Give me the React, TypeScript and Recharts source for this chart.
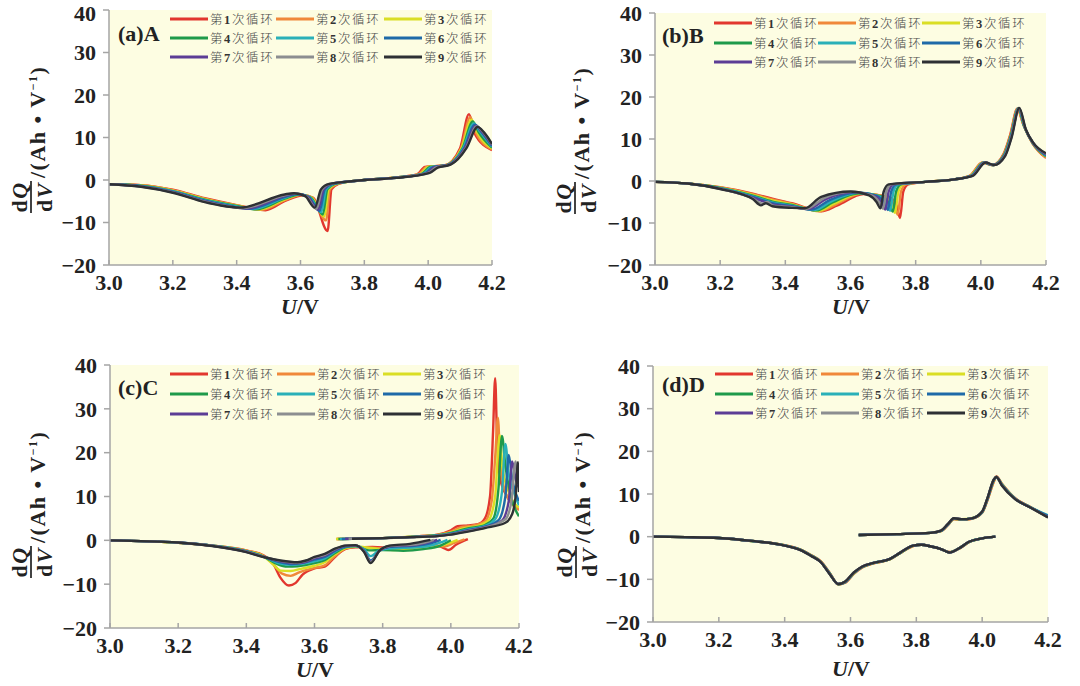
import React from "react";
import { LineChart, Line, XAxis, YAxis, CartesianGrid } from "recharts";

type Pt = [number, number];

const W = 1080;
const H = 686;
const BG = "#fdfde2";
const SERIF = "'Liberation Serif', 'Times New Roman', serif";
const CJK = "'Noto Sans CJK SC', sans-serif";

const COLORS = ["#e2372e", "#f0883a", "#dade24", "#1f9a4a", "#2ab0b8", "#1f6aa8", "#5c3d95", "#8c8e90", "#2e3034"];
const CYCLE_NUMS = ["1", "2", "3", "4", "5", "6", "7", "8", "9"];
const X_TICKS = [3.0, 3.2, 3.4, 3.6, 3.8, 4.0, 4.2];
const Y_TICKS = [-20, -10, 0, 10, 20, 30, 40];

// ---- (a) A : one curve per cycle, [U, dQ/dV]
const A1: Pt[] = [[3.0,-1],[3.1,-1.2],[3.2,-2.3],[3.3,-4.3],[3.4,-5.9],[3.49,-7.1],[3.55,-5.0],[3.61,-3.6],[3.64,-4.2],[3.685,-12],[3.697,-2.2],[3.72,-0.9],[3.76,-0.3],[3.8,0],[3.9,0.6],[3.965,1.3],[3.99,3.1],[4.05,3.4],[4.1,7.5],[4.128,15.5],[4.145,11],[4.2,7]];
const A2: Pt[] = [[3.0,-1],[3.1,-1.25],[3.2,-2.4],[3.3,-4.4],[3.4,-6.0],[3.48,-7.0],[3.55,-4.8],[3.605,-3.5],[3.637,-4.2],[3.68,-9.5],[3.692,-2.2],[3.716,-0.9],[3.76,-0.3],[3.8,0],[3.9,0.6],[3.97,1.35],[3.995,3.1],[4.053,3.4],[4.103,7.5],[4.132,14.8],[4.149,11.2],[4.2,7.2]];
const A3: Pt[] = [[3.0,-1],[3.1,-1.3],[3.2,-2.5],[3.3,-4.5],[3.4,-6.05],[3.47,-6.95],[3.55,-4.6],[3.6,-3.45],[3.634,-4.1],[3.675,-8.6],[3.688,-2.2],[3.712,-0.9],[3.76,-0.3],[3.8,0],[3.9,0.58],[3.975,1.4],[4.0,3.05],[4.055,3.45],[4.105,7.5],[4.136,14.2],[4.153,11.3],[4.2,7.4]];
const A4: Pt[] = [[3.0,-1],[3.1,-1.35],[3.2,-2.6],[3.3,-4.6],[3.4,-6.1],[3.46,-6.9],[3.55,-4.4],[3.595,-3.4],[3.631,-4.1],[3.67,-8.1],[3.684,-2.2],[3.708,-0.9],[3.76,-0.3],[3.8,0],[3.9,0.56],[3.98,1.45],[4.005,3.05],[4.058,3.5],[4.108,7.5],[4.14,13.8],[4.157,11.4],[4.2,7.6]];
const A5: Pt[] = [[3.0,-1],[3.1,-1.4],[3.2,-2.65],[3.3,-4.75],[3.4,-6.2],[3.45,-6.8],[3.55,-4.2],[3.59,-3.3],[3.628,-4.0],[3.665,-7.6],[3.68,-2.2],[3.704,-0.9],[3.76,-0.3],[3.8,0],[3.9,0.55],[3.985,1.5],[4.01,3.0],[4.06,3.5],[4.11,7.5],[4.143,13.3],[4.161,11.5],[4.2,7.8]];
const A6: Pt[] = [[3.0,-1],[3.1,-1.45],[3.2,-2.75],[3.3,-4.85],[3.38,-6.1],[3.44,-6.75],[3.55,-4.0],[3.59,-3.3],[3.625,-4.0],[3.66,-7.3],[3.676,-2.2],[3.7,-0.9],[3.76,-0.3],[3.8,0],[3.9,0.54],[3.99,1.55],[4.015,3.0],[4.063,3.55],[4.113,7.5],[4.146,13],[4.165,11.5],[4.2,8.0]];
const A7: Pt[] = [[3.0,-1],[3.1,-1.5],[3.2,-2.85],[3.3,-5.0],[3.36,-6.0],[3.43,-6.7],[3.55,-3.8],[3.585,-3.2],[3.622,-3.9],[3.655,-7.0],[3.672,-2.2],[3.696,-0.9],[3.76,-0.3],[3.8,0],[3.9,0.52],[3.995,1.6],[4.02,3.0],[4.065,3.6],[4.115,7.5],[4.15,12.8],[4.168,11.4],[4.2,8.2]];
const A8: Pt[] = [[3.0,-1],[3.1,-1.55],[3.2,-2.9],[3.3,-5.1],[3.35,-5.9],[3.42,-6.6],[3.55,-3.6],[3.58,-3.15],[3.618,-3.9],[3.65,-6.8],[3.668,-2.2],[3.692,-0.9],[3.76,-0.3],[3.8,0],[3.9,0.51],[4.0,1.65],[4.025,2.95],[4.068,3.6],[4.118,7.5],[4.152,12.6],[4.172,11.3],[4.2,8.4]];
const A9: Pt[] = [[3.0,-1],[3.1,-1.6],[3.2,-3.0],[3.3,-5.2],[3.35,-6.0],[3.41,-6.5],[3.55,-3.4],[3.58,-3.1],[3.615,-3.8],[3.645,-6.5],[3.664,-2.2],[3.69,-0.9],[3.76,-0.3],[3.8,0],[3.9,0.5],[4.005,1.7],[4.03,2.9],[4.07,3.6],[4.12,7.5],[4.155,12.5],[4.175,11.2],[4.2,8.5]];

// ---- (b) B
const B1: Pt[] = [[3.0,-0.2],[3.1,-0.6],[3.2,-1.5],[3.3,-3.0],[3.36,-4.2],[3.42,-5.3],[3.51,-7.2],[3.56,-5.8],[3.64,-3.1],[3.717,-3.8],[3.74,-5.5],[3.752,-8.8],[3.762,-2.5],[3.777,-0.8],[3.83,-0.2],[3.92,0.4],[3.965,1.2],[4.005,4.4],[4.035,3.8],[4.07,6.5],[4.09,11],[4.112,17.2],[4.13,13.5],[4.16,8.8],[4.2,5.5]];
const B2: Pt[] = [[3.0,-0.2],[3.1,-0.6],[3.2,-1.55],[3.3,-3.15],[3.36,-4.4],[3.42,-5.45],[3.505,-7.2],[3.555,-5.6],[3.635,-3.0],[3.71,-3.75],[3.733,-5.4],[3.745,-8.0],[3.755,-2.5],[3.77,-0.8],[3.83,-0.2],[3.92,0.4],[3.966,1.2],[4.006,4.4],[4.036,3.8],[4.071,6.4],[4.091,10.9],[4.113,17.2],[4.131,13.4],[4.16,8.85],[4.2,5.6]];
const B3: Pt[] = [[3.0,-0.2],[3.1,-0.6],[3.2,-1.6],[3.3,-3.3],[3.36,-4.65],[3.42,-5.55],[3.5,-7.1],[3.55,-5.4],[3.63,-2.95],[3.702,-3.7],[3.725,-5.35],[3.737,-7.6],[3.747,-2.5],[3.762,-0.8],[3.83,-0.2],[3.92,0.4],[3.967,1.2],[4.008,4.4],[4.037,3.8],[4.072,6.35],[4.092,10.8],[4.114,17.25],[4.132,13.2],[4.16,8.9],[4.2,5.8]];
const B4: Pt[] = [[3.0,-0.2],[3.1,-0.6],[3.2,-1.65],[3.3,-3.5],[3.36,-4.9],[3.42,-5.7],[3.495,-7.0],[3.545,-5.1],[3.625,-2.9],[3.695,-3.65],[3.718,-5.3],[3.73,-7.3],[3.74,-2.5],[3.755,-0.8],[3.83,-0.2],[3.92,0.4],[3.969,1.2],[4.009,4.4],[4.037,3.8],[4.072,6.3],[4.092,10.8],[4.115,17.3],[4.133,13.0],[4.16,8.95],[4.2,5.9]];
const B5: Pt[] = [[3.0,-0.2],[3.1,-0.6],[3.2,-1.7],[3.3,-3.65],[3.36,-5.1],[3.42,-5.85],[3.49,-6.9],[3.54,-4.9],[3.62,-2.8],[3.687,-3.6],[3.71,-5.2],[3.722,-7.1],[3.732,-2.5],[3.747,-0.8],[3.83,-0.2],[3.92,0.4],[3.97,1.2],[4.01,4.4],[4.038,3.8],[4.073,6.25],[4.093,10.7],[4.115,17.3],[4.134,12.9],[4.16,9.0],[4.2,6.0]];
const B6: Pt[] = [[3.0,-0.2],[3.1,-0.6],[3.2,-1.75],[3.3,-3.8],[3.36,-5.3],[3.42,-6.0],[3.48,-6.8],[3.535,-4.6],[3.615,-2.75],[3.68,-3.55],[3.703,-5.15],[3.715,-6.9],[3.725,-2.5],[3.74,-0.8],[3.83,-0.2],[3.92,0.4],[3.971,1.2],[4.011,4.4],[4.038,3.8],[4.073,6.2],[4.093,10.7],[4.116,17.3],[4.135,12.7],[4.16,9.05],[4.2,6.2]];
const B7: Pt[] = [[3.0,-0.2],[3.1,-0.6],[3.2,-1.8],[3.3,-3.95],[3.36,-5.55],[3.42,-6.1],[3.47,-6.7],[3.525,-4.3],[3.61,-2.65],[3.672,-3.5],[3.695,-5.1],[3.707,-6.8],[3.717,-2.5],[3.732,-0.8],[3.83,-0.2],[3.92,0.4],[3.972,1.2],[4.012,4.4],[4.039,3.8],[4.074,6.1],[4.094,10.6],[4.117,17.35],[4.136,12.6],[4.16,9.1],[4.2,6.3]];
const B8: Pt[] = [[3.0,-0.2],[3.1,-0.6],[3.2,-1.85],[3.3,-4.15],[3.33,-5.4],[3.345,-5.0],[3.36,-5.8],[3.42,-6.25],[3.465,-6.6],[3.52,-4.0],[3.605,-2.6],[3.665,-3.45],[3.688,-5.05],[3.70,-6.6],[3.71,-2.5],[3.725,-0.8],[3.83,-0.2],[3.92,0.4],[3.974,1.2],[4.014,4.4],[4.04,3.8],[4.074,6.05],[4.094,10.55],[4.117,17.4],[4.137,12.4],[4.16,9.15],[4.2,6.5]];
const B9: Pt[] = [[3.0,-0.2],[3.1,-0.6],[3.2,-1.9],[3.3,-4.3],[3.325,-5.8],[3.34,-5.3],[3.36,-6.0],[3.42,-6.4],[3.46,-6.5],[3.51,-3.8],[3.6,-2.5],[3.657,-3.4],[3.68,-5.0],[3.692,-6.5],[3.702,-2.5],[3.717,-0.8],[3.83,-0.2],[3.92,0.4],[3.975,1.2],[4.015,4.4],[4.04,3.8],[4.075,6.0],[4.095,10.5],[4.118,17.4],[4.138,12.3],[4.16,9.2],[4.2,6.6]];

// ---- (c) C : discharge branch
const Cd1: Pt[] = [[3.0,0],[3.2,-0.55],[3.3,-1.2],[3.4,-2.3],[3.45,-3.4],[3.48,-5.5],[3.5,-8.5],[3.525,-10.3],[3.545,-9.7],[3.565,-7.8],[3.6,-6.4],[3.63,-6.0],[3.66,-3.8],[3.69,-2.0],[3.72,-1.6],[3.77,-1.5],[3.83,-1.7],[3.9,-1.4],[3.95,-1.1],[3.975,-1.6],[3.993,-2.2],[4.015,-1.0],[4.05,0.3]];
const Cd2: Pt[] = [[3.0,0],[3.2,-0.55],[3.3,-1.2],[3.4,-2.35],[3.45,-3.5],[3.48,-5.5],[3.505,-7.6],[3.53,-8.1],[3.555,-7.3],[3.6,-6.3],[3.63,-5.7],[3.66,-3.6],[3.69,-1.9],[3.72,-1.5],[3.77,-1.7],[3.83,-1.9],[3.9,-1.6],[3.95,-1.2],[3.98,-1.4],[4.01,-0.6],[4.04,0.2]];
const Cd3: Pt[] = [[3.0,0],[3.2,-0.55],[3.3,-1.2],[3.4,-2.4],[3.45,-3.6],[3.48,-5.6],[3.5,-6.9],[3.53,-7.0],[3.56,-6.5],[3.6,-5.8],[3.63,-5.0],[3.66,-3.2],[3.69,-1.8],[3.72,-1.4],[3.77,-1.8],[3.83,-2.2],[3.9,-1.9],[3.96,-1.4],[4.0,-0.5],[4.02,0.1]];
const Cd4: Pt[] = [[3.0,0],[3.2,-0.55],[3.3,-1.2],[3.4,-2.45],[3.45,-3.7],[3.49,-5.4],[3.52,-6.0],[3.55,-5.9],[3.6,-5.2],[3.63,-4.5],[3.66,-2.9],[3.69,-1.6],[3.72,-1.3],[3.76,-2.3],[3.8,-2.2],[3.86,-2.4],[3.92,-2.0],[3.97,-1.2],[4.0,0.0]];
const Cd5: Pt[] = [[3.0,0],[3.2,-0.5],[3.3,-1.2],[3.4,-2.5],[3.45,-3.7],[3.5,-5.3],[3.53,-5.6],[3.56,-5.4],[3.6,-4.8],[3.63,-4.1],[3.66,-2.6],[3.69,-1.5],[3.72,-1.3],[3.745,-2.0],[3.765,-3.6],[3.79,-2.3],[3.83,-1.8],[3.9,-1.6],[3.95,-1.0],[3.99,0.1]];
const Cd6: Pt[] = [[3.0,0],[3.2,-0.5],[3.3,-1.2],[3.4,-2.55],[3.45,-3.7],[3.5,-5.0],[3.535,-5.4],[3.56,-5.2],[3.6,-4.4],[3.63,-3.8],[3.66,-2.4],[3.69,-1.4],[3.72,-1.2],[3.745,-2.3],[3.765,-4.6],[3.79,-2.4],[3.82,-1.5],[3.9,-1.2],[3.94,-0.7],[3.97,0.1]];
const Cd7: Pt[] = [[3.0,0],[3.2,-0.5],[3.3,-1.25],[3.4,-2.6],[3.45,-3.75],[3.5,-4.8],[3.54,-5.2],[3.57,-5.0],[3.6,-4.1],[3.63,-3.5],[3.66,-2.2],[3.69,-1.3],[3.72,-1.2],[3.745,-2.4],[3.765,-4.9],[3.79,-2.4],[3.82,-1.4],[3.9,-1.0],[3.96,0.1]];
const Cd8: Pt[] = [[3.0,0],[3.2,-0.5],[3.3,-1.25],[3.4,-2.65],[3.45,-3.75],[3.5,-4.7],[3.545,-5.1],[3.57,-4.8],[3.6,-3.9],[3.63,-3.3],[3.66,-2.0],[3.69,-1.2],[3.72,-1.1],[3.745,-2.5],[3.765,-5.0],[3.79,-2.4],[3.82,-1.3],[3.9,-0.9],[3.95,0.1]];
const Cd9: Pt[] = [[3.0,0],[3.2,-0.5],[3.3,-1.3],[3.4,-2.7],[3.45,-3.8],[3.5,-4.6],[3.55,-5.0],[3.575,-4.6],[3.6,-3.8],[3.63,-3.1],[3.66,-1.9],[3.69,-1.2],[3.72,-1.1],[3.745,-2.6],[3.765,-5.2],[3.79,-2.4],[3.82,-1.2],[3.88,-0.8],[3.94,0.1]];

// ---- (c) C : charge branch
const Cc1: Pt[] = [[3.665,0.3],[3.8,0.5],[3.9,0.9],[3.96,1.3],[4.0,2.3],[4.02,3.2],[4.05,3.4],[4.08,3.7],[4.1,5.0],[4.115,10],[4.124,25],[4.13,37],[4.136,22],[4.145,14],[4.165,10],[4.2,7]];
const Cc2: Pt[] = [[3.665,0.3],[3.8,0.5],[3.9,0.9],[3.96,1.25],[4.0,2.0],[4.03,3.0],[4.06,3.3],[4.1,4.3],[4.12,9],[4.131,20],[4.138,28],[4.145,18],[4.16,11],[4.2,7]];
const Cc3: Pt[] = [[3.663,0.3],[3.8,0.5],[3.9,0.9],[3.96,1.2],[4.0,1.8],[4.04,2.8],[4.08,3.3],[4.11,4.5],[4.13,10],[4.143,24],[4.151,17],[4.17,11],[4.2,7.5]];
const Cc4: Pt[] = [[3.67,0.3],[3.8,0.5],[3.9,0.85],[3.96,1.15],[4.0,1.7],[4.05,2.7],[4.1,3.5],[4.125,5],[4.14,12],[4.15,23.8],[4.16,17],[4.18,9],[4.2,5.5]];
const Cc5: Pt[] = [[3.675,0.3],[3.8,0.5],[3.9,0.85],[3.96,1.1],[4.0,1.6],[4.05,2.5],[4.1,3.3],[4.13,4.8],[4.15,11],[4.16,22],[4.17,15],[4.19,10],[4.2,8]];
const Cc6: Pt[] = [[3.68,0.3],[3.8,0.5],[3.9,0.8],[3.96,1.05],[4.0,1.5],[4.05,2.3],[4.1,3.1],[4.14,4.6],[4.16,10],[4.17,19.5],[4.18,14],[4.2,9]];
const Cc7: Pt[] = [[3.69,0.35],[3.8,0.5],[3.9,0.8],[3.96,1.0],[4.0,1.4],[4.05,2.2],[4.1,3.0],[4.15,4.5],[4.17,9],[4.18,18],[4.19,14],[4.2,12]];
const Cc8: Pt[] = [[3.7,0.35],[3.8,0.5],[3.9,0.8],[3.96,1.0],[4.0,1.4],[4.05,2.1],[4.1,2.9],[4.16,4.8],[4.178,9],[4.19,18],[4.195,15],[4.2,13]];
const Cc9: Pt[] = [[3.71,0.35],[3.8,0.5],[3.9,0.75],[3.96,0.95],[4.0,1.3],[4.05,2.0],[4.1,2.8],[4.16,4.0],[4.18,6],[4.19,10],[4.197,17.8],[4.2,11]];

// ---- (d) D : cycles almost coincide, shared voltage grids
const D_DIS_V = [3.0,3.1,3.2,3.3,3.4,3.45,3.48,3.51,3.537,3.563,3.584,3.61,3.636,3.667,3.72,3.75,3.79,3.815,3.845,3.875,3.9,3.93,3.96,4.0,4.04];
const Dd1 = [0,-0.1,-0.3,-1.0,-2.0,-3.1,-4.3,-5.8,-8.5,-11.2,-10.8,-8.7,-7.2,-6.3,-5.3,-3.9,-2.2,-1.9,-2.3,-2.9,-3.6,-2.8,-1.3,-0.4,0];
const Dd2 = [0,-0.1,-0.3,-1.0,-2.0,-3.1,-4.35,-5.85,-8.55,-11.2,-10.75,-8.65,-7.15,-6.3,-5.3,-3.9,-2.2,-1.9,-2.3,-2.9,-3.65,-2.8,-1.3,-0.4,0];
const Dd3 = [0,-0.1,-0.3,-1.0,-2.05,-3.1,-4.35,-5.9,-8.6,-11.15,-10.7,-8.6,-7.1,-6.25,-5.25,-3.85,-2.15,-1.9,-2.3,-2.9,-3.65,-2.75,-1.25,-0.4,0];
const Dd4 = [0,-0.1,-0.3,-1.0,-2.05,-3.15,-4.4,-5.9,-8.65,-11.15,-10.65,-8.55,-7.1,-6.25,-5.25,-3.85,-2.15,-1.9,-2.3,-2.9,-3.65,-2.75,-1.25,-0.4,0];
const Dd5 = [0,-0.1,-0.3,-1.0,-2.05,-3.15,-4.4,-5.95,-8.7,-11.1,-10.6,-8.5,-7.05,-6.2,-5.2,-3.85,-2.1,-1.9,-2.3,-2.9,-3.7,-2.75,-1.25,-0.4,0];
const Dd6 = [0,-0.1,-0.3,-1.0,-2.1,-3.15,-4.45,-5.95,-8.7,-11.1,-10.6,-8.5,-7.05,-6.2,-5.2,-3.8,-2.1,-1.9,-2.3,-2.9,-3.7,-2.7,-1.2,-0.4,0];
const Dd7 = [0,-0.1,-0.3,-1.0,-2.1,-3.2,-4.45,-6.0,-8.75,-11.1,-10.55,-8.45,-7.0,-6.2,-5.2,-3.8,-2.1,-1.9,-2.3,-2.9,-3.7,-2.7,-1.2,-0.4,0];
const Dd8 = [0,-0.1,-0.3,-1.0,-2.1,-3.2,-4.5,-6.0,-8.8,-11.1,-10.5,-8.4,-7.0,-6.2,-5.2,-3.8,-2.1,-1.9,-2.3,-2.9,-3.7,-2.7,-1.2,-0.4,0];
const Dd9 = [0,-0.1,-0.3,-1.0,-2.1,-3.2,-4.5,-6.0,-8.8,-11.1,-10.5,-8.4,-7.0,-6.2,-5.2,-3.8,-2.1,-1.9,-2.3,-2.9,-3.7,-2.7,-1.2,-0.4,0];

const D_CHG_V = [3.625,3.74,3.844,3.875,3.896,3.914,3.937,3.968,4.0,4.015,4.036,4.043,4.06,4.1,4.145,4.2];
const Dc1 = [0.4,0.6,0.9,1.3,2.7,4.1,4.0,4.2,5.6,8.3,13.0,14.1,12.4,9.0,7.0,4.6];
const Dc2 = [0.4,0.6,0.9,1.3,2.75,4.15,4.0,4.2,5.65,8.4,13.1,14.1,12.35,9.0,7.0,4.6];
const Dc3 = [0.4,0.6,0.9,1.3,2.8,4.2,4.1,4.35,5.7,8.5,13.2,14.0,12.3,8.95,6.95,4.6];
const Dc4 = [0.4,0.6,0.9,1.35,2.85,4.2,4.05,4.25,5.75,8.55,13.3,14.0,12.2,8.9,6.95,4.7];
const Dc5 = [0.4,0.6,0.9,1.35,2.9,4.25,4.1,4.3,5.8,8.6,13.35,14.0,12.2,8.9,6.95,5.0];
const Dc6 = [0.4,0.6,0.9,1.35,2.9,4.25,4.1,4.3,5.8,8.65,13.4,14.0,12.1,8.85,6.9,4.9];
const Dc7 = [0.4,0.6,0.9,1.4,2.95,4.3,4.1,4.3,5.85,8.7,13.45,14.0,12.05,8.85,6.9,4.6];
const Dc8 = [0.4,0.6,0.9,1.4,3.0,4.3,4.1,4.3,5.9,8.75,13.5,14.0,12.0,8.8,6.9,4.5];
const Dc9 = [0.4,0.6,0.9,1.4,3.0,4.3,4.1,4.3,5.9,8.8,13.5,14.0,12.0,8.8,6.9,4.5];

const A_CYCLES = [A1, A2, A3, A4, A5, A6, A7, A8, A9];
const B_CYCLES = [B1, B2, B3, B4, B5, B6, B7, B8, B9];
const C_DIS = [Cd1, Cd2, Cd3, Cd4, Cd5, Cd6, Cd7, Cd8, Cd9];
const C_CHG = [Cc1, Cc2, Cc3, Cc4, Cc5, Cc6, Cc7, Cc8, Cc9];
const D_DIS = [Dd1, Dd2, Dd3, Dd4, Dd5, Dd6, Dd7, Dd8, Dd9];
const D_CHG = [Dc1, Dc2, Dc3, Dc4, Dc5, Dc6, Dc7, Dc8, Dc9];

const zip = (xs: number[], ys: number[]): Pt[] => xs.map((x, i) => [x, ys[i]]);
const rows = (pts: Pt[]) => pts.map(([v, q]) => ({ v, q }));

interface Series {
  pts: Pt[];
  color: string;
}
interface Rect {
  l: number;
  t: number;
  r: number;
  b: number;
}

const YW = 60;
const XH = 40;
const tickFont = { fontFamily: SERIF, fontWeight: "bold", fontSize: 22, fill: "#222" };

const Panel = ({ plot, lines }: { plot: Rect; lines: Series[] }) => (
  <div style={{ position: "absolute", left: 0, top: 0 }}>
    <LineChart
      width={W}
      height={H}
      margin={{ top: plot.t, right: W - plot.r, bottom: H - plot.b - XH, left: plot.l - YW }}
    >
      <CartesianGrid fill={BG} stroke="none" />
      <XAxis
        type="number"
        dataKey="v"
        domain={[3, 4.2]}
        ticks={X_TICKS}
        allowDataOverflow
        height={XH}
        tickFormatter={(v: number) => v.toFixed(1)}
        tick={tickFont}
        stroke="#a5a5a5"
        strokeWidth={1.5}
        tickSize={-5}
        tickMargin={14}
      />
      <YAxis
        type="number"
        domain={[-20, 40]}
        ticks={Y_TICKS}
        allowDataOverflow
        width={YW}
        tickFormatter={(v: number) => (v < 0 ? `\u2212${-v}` : `${v}`)}
        tick={tickFont}
        stroke="#a5a5a5"
        strokeWidth={1.5}
        tickSize={6}
        tickMargin={7}
      />
      {lines.map((s, i) => (
        <Line
          key={i}
          data={rows(s.pts)}
          dataKey="q"
          type="monotone"
          stroke={s.color}
          strokeWidth={2.4}
          dot={false}
          isAnimationActive={false}
        />
      ))}
    </LineChart>
  </div>
);

// legend of the nine cycles, 3 x 3, drawn inside the plot
const CycleLegend = ({ cols, rowsY }: { cols: number[]; rowsY: number[] }) => (
  <g>
    {CYCLE_NUMS.map((n, i) => {
      const x = cols[i % 3];
      const y = rowsY[Math.floor(i / 3)];
      return (
        <g key={n}>
          <line x1={x} x2={x + 38} y1={y} y2={y} stroke={COLORS[i]} strokeWidth={3} />
          <text x={x + 40} y={y + 4.5} fontSize={12.5} fill="#4a4a4a" fontFamily={CJK} fontWeight={300} letterSpacing={1.6}>
            第<tspan fontFamily={SERIF} fontWeight="bold" fill="#333">{n}</tspan>次循环
          </text>
        </g>
      );
    })}
  </g>
);

// rotated dQ/dV label; (x, y) = fraction bar position / split point
const YLabel = ({ x, y }: { x: number; y: number }) => (
  <g transform={`translate(${x},${y}) rotate(-90)`} fontFamily={SERIF} fontWeight="bold" fill="#222">
    <text x={-19} y={-4} fontSize={22} textAnchor="middle" letterSpacing={1.5}>
      d<tspan fontStyle="italic">Q</tspan>
    </text>
    <line x1={-35} x2={-3} y1={0} y2={0} stroke="#222" strokeWidth={1.7} />
    <text x={-19} y={21} fontSize={22} textAnchor="middle" letterSpacing={1.5}>
      d<tspan fontStyle="italic">V</tspan>
    </text>
    <text x={0} y={14} fontSize={22} letterSpacing={1.5}>
      /(Ah • V<tspan dy={-8} fontSize={12}>−1</tspan>
      <tspan dy={8}>)</tspan>
    </text>
  </g>
);

const XLabel = ({ x, y }: { x: number; y: number }) => (
  <text x={x} y={y} textAnchor="middle" fontFamily={SERIF} fontWeight="bold" fontSize={22} fill="#222">
    <tspan fontStyle="italic">U</tspan>/V
  </text>
);

const Tag = ({ x, y, text }: { x: number; y: number; text: string }) => (
  <text x={x} y={y} fontFamily={SERIF} fontWeight="bold" fontSize={22} fill="#222">
    {text}
  </text>
);

const RECT_A: Rect = { l: 109, t: 10, r: 492, b: 265 };
const RECT_B: Rect = { l: 655, t: 13, r: 1046, b: 265 };
const RECT_C: Rect = { l: 110, t: 365, r: 519, b: 628 };
const RECT_D: Rect = { l: 653, t: 366, r: 1048, b: 622 };

export default function App() {
  const linesA = A_CYCLES.map((pts, i) => ({ pts, color: COLORS[i] }));
  const linesB = B_CYCLES.map((pts, i) => ({ pts, color: COLORS[i] }));
  const linesC: Series[] = [];
  C_DIS.forEach((pts, i) => {
    linesC.push({ pts, color: COLORS[i] });
    linesC.push({ pts: C_CHG[i], color: COLORS[i] });
  });
  const linesD: Series[] = [];
  D_DIS.forEach((ys, i) => {
    linesD.push({ pts: zip(D_DIS_V, ys), color: COLORS[i] });
    linesD.push({ pts: zip(D_CHG_V, D_CHG[i]), color: COLORS[i] });
  });

  return (
    <div style={{ position: "absolute", left: 0, top: 0, width: W, height: H, background: "#fff", overflow: "hidden" }}>
      <Panel plot={RECT_A} lines={linesA} />
      <Panel plot={RECT_B} lines={linesB} />
      <Panel plot={RECT_C} lines={linesC} />
      <Panel plot={RECT_D} lines={linesD} />
      <svg width={W} height={H} style={{ position: "absolute", left: 0, top: 0, pointerEvents: "none" }}>
        <Tag x={118} y={41} text="(a)A" />
        <Tag x={662} y={43} text="(b)B" />
        <Tag x={118} y={395} text="(c)C" />
        <Tag x={662} y={392} text="(d)D" />
        <CycleLegend cols={[170, 276, 384]} rowsY={[19, 38, 57]} />
        <CycleLegend cols={[714, 818, 922]} rowsY={[23, 43, 62]} />
        <CycleLegend cols={[170, 277, 383]} rowsY={[374, 394, 414]} />
        <CycleLegend cols={[715, 821, 927]} rowsY={[374, 394, 413]} />
        <YLabel x={31} y={178} />
        <YLabel x={575} y={179} />
        <YLabel x={31} y={543} />
        <YLabel x={576} y={543} />
        <XLabel x={300} y={314} />
        <XLabel x={851} y={314} />
        <XLabel x={315} y={677} />
        <XLabel x={851} y={676} />
      </svg>
    </div>
  );
}
